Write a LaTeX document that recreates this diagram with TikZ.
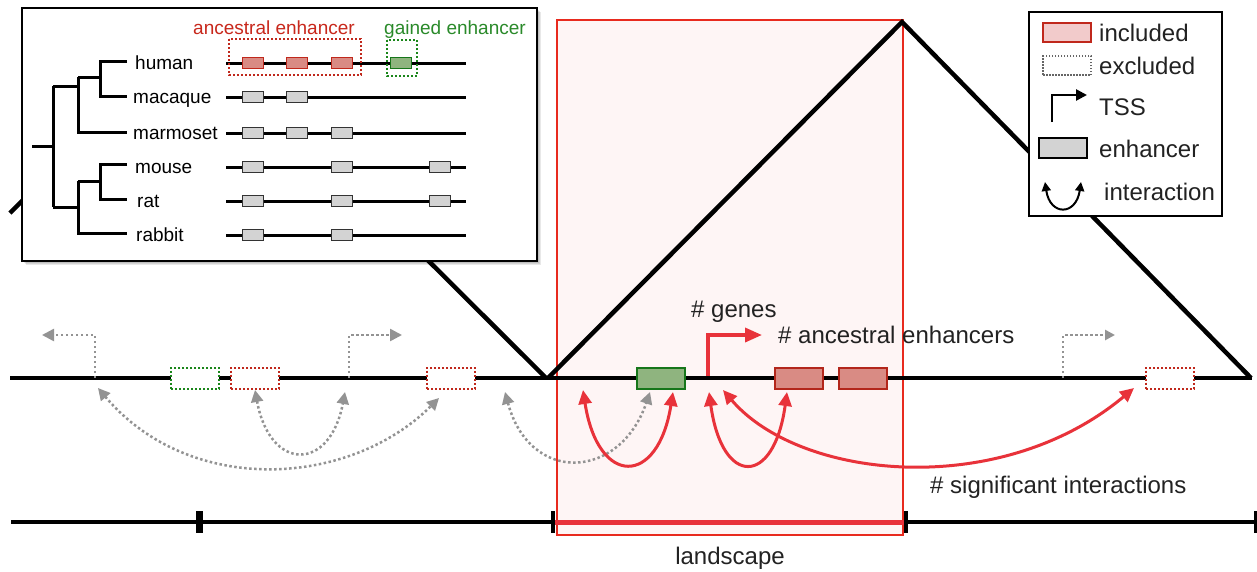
\documentclass[tikz,border=0pt]{standalone}
\usepackage{fontspec}
\setmainfont{Liberation Sans}
\usetikzlibrary{arrows.meta}

\definecolor{tred}{HTML}{E8323A}
\definecolor{lsred}{HTML}{E82A1E}
\definecolor{lsfill}{HTML}{FEF5F5}
\definecolor{inclfill}{HTML}{F2CBCB}
\definecolor{incldraw}{HTML}{C0281C}
\definecolor{ancfill}{HTML}{D98B84}
\definecolor{ancdraw}{HTML}{B3261B}
\definecolor{gainfill}{HTML}{8FB47F}
\definecolor{gaindraw}{HTML}{16761A}
\definecolor{exred}{HTML}{C0281C}
\definecolor{exgreen}{HTML}{1A861A}
\definecolor{dotgrey}{HTML}{939393}
\definecolor{enhgrey}{HTML}{D3D3D3}
\definecolor{txt}{HTML}{222222}
\definecolor{labred}{HTML}{C8281C}
\definecolor{labgreen}{HTML}{2A8A2A}

\tikzset{
  gtip/.tip={Triangle[length=12pt,width=12pt]},
  rtip/.tip={Triangle[length=14pt,width=13pt]},
}

\begin{document}
\begin{tikzpicture}[x=1pt,y=-1pt,
  big/.style={font=\fontsize{24}{28}\selectfont, text=txt, inner sep=0pt, anchor=base west},
  small/.style={font=\fontsize{19}{22}\selectfont, text=black, inner sep=0pt, anchor=base west},
  thick line/.style={line width=4.5pt, black},
  tree/.style={line width=3pt, black, line cap=butt},
  track/.style={line width=3pt, black},
  enhbox/.style={minimum width=48pt, minimum height=21pt, inner sep=0pt},
  exbox/.style={enhbox, fill=white, line width=2pt, dash pattern=on 2pt off 2pt},
  minibox/.style={minimum width=21pt, minimum height=11pt, inner sep=0pt, line width=1pt},
  greybox/.style={minibox, fill=enhgrey, draw=black!80},
  redbox/.style={minibox, fill=ancfill, draw=incldraw},
  greenbox/.style={minibox, fill=gainfill, draw=gaindraw},
  greydot/.style={dotgrey, line width=2.5pt, dash pattern=on 2.5pt off 2.5pt},
  redarc/.style={tred, line width=3pt, {rtip}-{rtip}},
  greyarc/.style={greydot, {gtip}-{gtip}},
]
\useasboundingbox (0,0) rectangle (1257,571);
\fill[white] (0,0) rectangle (1257,571);

% landscape window
\draw[fill=lsfill, draw=lsred, line width=2pt] (557,20) rectangle (903,535);
\node[big, anchor=base] (land) at (730,564) {landscape};

% domain triangles
\draw[thick line] (10,213) -- (195,28) -- (546,378);
\draw[thick line] (548,378) -- (902,22) -- (1251,378);

% chromosome track
\draw[thick line] (10,378) -- (1252,378);

% genomic scale
\draw[thick line] (11,522) -- (1255,522);
\draw[tred, line width=5pt] (553,522) -- (906,522);
\draw[line width=7pt] (199,511) -- (199,533);
\draw[line width=4pt] (553,511) -- (553,533);
\draw[line width=4pt] (906,511) -- (906,533);
\draw[line width=3pt] (1255,511) -- (1255,533);

% excluded elements
\node[exbox, draw=exgreen] (xg1) at (195,378) {};
\node[exbox, draw=exred] (xr1) at (255,378) {};
\node[exbox, draw=exred] (xr2) at (451,378) {};
\node[exbox, draw=exred] (xr3) at (1170,378) {};

% included elements
\node[enhbox, fill=gainfill, draw=gaindraw, line width=2pt] (g1) at (661,378) {};
\node[enhbox, fill=ancfill, draw=ancdraw, line width=2pt] (a1) at (799,378) {};
\node[enhbox, fill=ancfill, draw=ancdraw, line width=2pt] (a2) at (863,378) {};

% transcription start sites
\coordinate (tss1) at (95,378);
\coordinate (tss2) at (349,378);
\coordinate (tss3) at (1063,378);
\coordinate (tssR) at (708,376);
\coordinate (tss1e) at (42,335);
\coordinate (tss2e) at (402,335);
\coordinate (tss3e) at (1115,335);
\coordinate (tssRe) at (762,335);
\draw[greydot, -{gtip}] (tss1) |- (tss1e);
\draw[greydot, -{gtip}] (tss2) |- (tss2e);
\draw[greydot, -{Triangle[length=10pt,width=10pt]}] (tss3) |- (tss3e);
\draw[tred, line width=3.5pt, -{Triangle[length=17pt,width=14pt]}] (tssR) |- (tssRe);

% interaction end points
\coordinate (p1) at (98,388);
\coordinate (p2) at (439,398);
\coordinate (p3) at (255,390);
\coordinate (p4) at (345,392);
\coordinate (p5) at (505,392);
\coordinate (p6) at (650,392);
\coordinate (q1) at (583,390);
\coordinate (q2) at (673,392);
\coordinate (q3) at (709,392);
\coordinate (q4) at (787,392);
\coordinate (q5) at (723,390);
\coordinate (q6) at (1134,388);

% excluded interactions
\draw[greyarc] (p1) .. controls (190,497) and (350,487) .. (p2);
\draw[greyarc] (p3) .. controls (270,472) and (330,472) .. (p4);
\draw[greyarc] (p5) .. controls (530,485) and (620,480) .. (p6);

% significant interactions
\draw[redarc] (q1) .. controls (598,487) and (658,487) .. (q2);
\draw[redarc] (q3) .. controls (722,487) and (774,487) .. (q4);
\draw[redarc] (q5) .. controls (800,480) and (1000,500) .. (q6);

% labels
\node[big] (genes) at (691,317) {\# genes};
\node[big] (anc) at (778,343) {\# ancestral enhancers};
\node[big] (sig) at (930,493) {\# significant interactions};

% phylogeny inset with a soft drop shadow
\foreach \s in {1,2,3,4}
  \fill[black, opacity=0.09] (22+\s,8+\s) rectangle (537+\s,261+\s);
\draw[fill=white, line width=1.5pt] (22,8) rectangle (537,261);

\draw[tree] (127,61) -- (100,61) -- (100,96) -- (127,96);
\draw[tree] (100,77) -- (78,77);
\draw[tree] (78,77) -- (78,132) -- (127,132);
\draw[tree] (127,164) -- (100,164) -- (100,199) -- (127,199);
\draw[tree] (100,181) -- (78,181);
\draw[tree] (78,181) -- (78,233) -- (127,233);
\draw[tree] (53,86) -- (78,86);
\draw[tree] (53,207) -- (78,207);
\draw[tree] (53,86) -- (53,207);
\draw[tree] (32,146) -- (53,146);

\node[small] (human) at (135,69) {human};
\node[small] (macaque) at (133,103) {macaque};
\node[small] (marmoset) at (133,139) {marmoset};
\node[small] (mouse) at (135,173) {mouse};
\node[small] (rat) at (137,207) {rat};
\node[small] (rabbit) at (136,241) {rabbit};

\foreach \y in {63,97,133,167,201,235} \draw[track] (226,\y) -- (466,\y);

\node[redbox] (h1) at (253,63) {};
\node[redbox] (h2) at (297,63) {};
\node[redbox] (h3) at (342,63) {};
\node[greenbox] (h4) at (401,63) {};
\node[greybox] (mq1) at (253,97) {};
\node[greybox] (mq2) at (297,97) {};
\node[greybox] (mm1) at (253,133) {};
\node[greybox] (mm2) at (297,133) {};
\node[greybox] (mm3) at (342,133) {};
\node[greybox] (mo1) at (253,167) {};
\node[greybox] (mo2) at (342,167) {};
\node[greybox] (mo3) at (440,167) {};
\node[greybox] (ra1) at (253,201) {};
\node[greybox] (ra2) at (342,201) {};
\node[greybox] (ra3) at (440,201) {};
\node[greybox] (rb1) at (253,235) {};
\node[greybox] (rb2) at (342,235) {};

\draw[exred, line width=1.2pt, dash pattern=on 2pt off 2pt] (229,39) rectangle (361,75);
\draw[exgreen, line width=1.2pt, dash pattern=on 2pt off 2pt] (387,40) rectangle (417,76);
\node[small, text=labred] (anclab) at (193,34) {ancestral enhancer};
\node[small, text=labgreen] (gainlab) at (384,34) {gained enhancer};

% legend
\draw[fill=white, line width=1.2pt] (1029,12) rectangle (1222,216);
\node[enhbox, fill=inclfill, draw=incldraw, line width=2pt, minimum height=19pt] (lg1) at (1067,32.5) {};
\node[enhbox, draw=black!60, line width=1.5pt, dash pattern=on 1.5pt off 1.5pt, minimum height=19pt] (lg2) at (1067,65.5) {};
\node[enhbox, fill=enhgrey, draw=black, line width=2pt, minimum height=20pt] (lg4) at (1062.5,148) {};
\coordinate (lt0) at (1052,122);
\coordinate (lt1) at (1087,95);
\draw[line width=2.5pt, -{Triangle[length=11pt,width=11pt]}] (lt0) |- (lt1);
\coordinate (li0) at (1045,182);
\coordinate (li1) at (1081,182);
\draw[line width=2pt, {Triangle[length=9pt,width=9pt]}-{Triangle[length=9pt,width=9pt]}] (li0) .. controls (1050,216) and (1076,216) .. (li1);
\node[big] (t1) at (1099,41) {included};
\node[big] (t2) at (1099,74) {excluded};
\node[big] (t3) at (1099,115) {TSS};
\node[big] (t4) at (1099,157) {enhancer};
\node[big] (t5) at (1104,200) {interaction};
\end{tikzpicture}
\end{document}
